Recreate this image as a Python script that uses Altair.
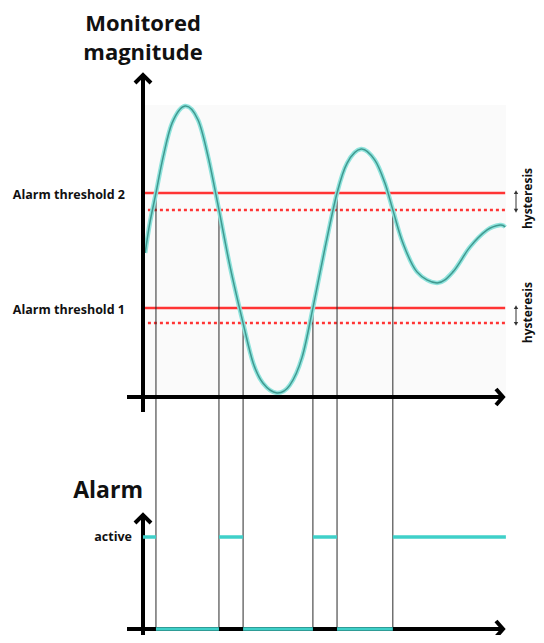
import altair as alt
import pandas as pd

# ---------------- data ----------------
# monitored magnitude over time (time units: 0 = vertical axis, 10 = arrow tip)
curve_t = [0.06, 0.19, 0.36, 0.56, 0.81, 1.17, 1.53, 1.81, 2.11, 2.42, 2.78,
           3.06, 3.33, 3.72, 4.08, 4.42, 4.72, 5.06, 5.39, 5.67, 6.06, 6.44,
           6.72, 6.94, 7.22, 7.61, 8.17, 8.61, 9.08, 9.56, 9.92, 10.06]
curve_m = [49.5, 59.8, 70.1, 82.5, 94.2, 100.0, 95.2, 82.5, 64.3, 44.7, 25.4,
           11.7, 4.8, 1.4, 4.1, 13.7, 30.6, 51.5, 70.1, 80.4, 85.2, 81.4,
           73.5, 64.3, 52.9, 43.0, 39.2, 43.0, 51.5, 57.4, 59.1, 58.4]

threshold_names = ["Alarm threshold 2", "Alarm threshold 1"]
threshold_levels = [70.1, 30.6]
release_levels = [64.3, 25.4]
threshold_start, threshold_end = -0.03, 10.06

crossing_t = [0.36, 2.11, 2.78, 4.72, 5.39, 6.94]
crossing_m = [70.1, 64.3, 25.4, 30.6, 70.1, 64.3]

state_start = [0.0, 0.36, 2.11, 2.78, 4.72, 5.39, 6.94]
state_end = [0.36, 2.11, 2.78, 4.72, 5.39, 6.94, 10.08]
state_value = [1, 0, 1, 0, 1, 0, 1]

# ---------------- layout ----------------
W, H = 528, 627
AX_PX, PX_T = 143, 36.0      # x pixel of t=0, pixels per time unit
AY_PX, PX_M = 397, 2.91      # y pixel of m=0, pixels per magnitude unit


def tx(px):
    return (px - AX_PX) / PX_T


def my(py):
    return (AY_PX - py) / PX_M


OFF_M = my(629)
ACT_M = my(537)

XS = alt.Scale(domain=[tx(8), tx(8 + W)], nice=False, zero=False)
YS = alt.Scale(domain=[my(8 + H), my(8)], nice=False, zero=False)


def X(f):
    return alt.X(f, type="quantitative", scale=XS, axis=None)


def Y(f):
    return alt.Y(f, type="quantitative", scale=YS, axis=None)


RED = "#ff3434"
TEAL = "#3fd0c9"
FONT = "Open Sans"

# background of plot area
bg = alt.Chart(pd.DataFrame({"a": [tx(145)], "b": [tx(506)], "c": [my(395)], "d": [my(105)]})).mark_rect(
    fill="#fafafa").encode(x=X("a"), x2="b", y=Y("c"), y2="d")

thr_df = pd.DataFrame({"name": threshold_names, "level": threshold_levels,
                       "release": release_levels,
                       "s": [threshold_start] * 2, "e": [threshold_end] * 2})
thr_solid = alt.Chart(thr_df).mark_rule(color=RED, strokeWidth=2.5).encode(
    x=X("s"), x2="e", y=Y("level"))
thr_dot = alt.Chart(thr_df).mark_rule(color=RED, strokeWidth=2.5, strokeDash=[3, 3]).encode(
    x=X("s"), x2="e", y=Y("release"))

cross_df = pd.DataFrame({"t": crossing_t, "m": crossing_m})
cross = alt.Chart(cross_df).transform_calculate(bot=str(OFF_M)).mark_rule(
    color="#2a2a2a", strokeWidth=1).encode(x=X("t"), y=Y("m"), y2="bot:Q")

curve_df = pd.DataFrame({"t": curve_t, "m": curve_m})
glow = alt.Chart(curve_df).mark_line(color="#8fe3dc", strokeWidth=4.5, interpolate="cardinal").encode(
    x=X("t"), y=Y("m"), order="t:Q")
core = alt.Chart(curve_df).mark_line(color="#3f9990", strokeWidth=1.5, interpolate="cardinal").encode(
    x=X("t"), y=Y("m"), order="t:Q")

# axes
axes_df = pd.DataFrame({
    "x1": [0, tx(127), 0, tx(127)],
    "x2": [0, tx(504), 0, tx(504)],
    "y1": [my(412), 0, my(650), OFF_M],
    "y2": [my(74), 0, my(514), OFF_M],
})
axes = alt.Chart(axes_df).mark_rule(color="black", strokeWidth=4).encode(
    x=X("x1"), x2="x2", y=Y("y1"), y2="y2")

arrows_df = pd.DataFrame({
    "id": [0] * 3 + [1] * 3 + [2] * 3 + [3] * 3,
    "o": [0, 1, 2] * 4,
    "x": [tx(135), 0, tx(151), tx(135), 0, tx(151),
          tx(496), tx(503), tx(496), tx(496), tx(503), tx(496)],
    "y": [my(83), my(75), my(83), my(523), my(515), my(523),
          my(389), 0, my(405), my(621), OFF_M, my(637)],
})
arrows = alt.Chart(arrows_df).mark_line(color="black", strokeWidth=4, strokeJoin="miter",
                                        strokeCap="butt").encode(
    x=X("x"), y=Y("y"), detail="id:N", order="o:Q")

state_df = pd.DataFrame({"s": state_start, "e": state_end, "v": state_value})
state = alt.Chart(state_df).transform_calculate(
    yy=f"{OFF_M} + datum.v * ({ACT_M - OFF_M})").mark_rule(color=TEAL, strokeWidth=3.5).encode(
    x=X("s"), x2="e", y=Y("yy"))

# hysteresis markers
hx = tx(516)
hyst_rule = alt.Chart(thr_df).transform_calculate(hx=str(hx)).mark_rule(
    color="#333", strokeWidth=1).encode(x=X("hx"), y=Y("level"), y2="release")
up = alt.Chart(thr_df).transform_calculate(hx=str(hx)).mark_point(
    shape="M0,-1L-0.8,0.4L0.8,0.4Z", filled=True, color="#333", size=30, opacity=1).encode(
    x=X("hx"), y=Y("level"))
down = alt.Chart(thr_df).transform_calculate(hx=str(hx)).mark_point(
    shape="M0,1L-0.8,-0.4L0.8,-0.4Z", filled=True, color="#333", size=30, opacity=1).encode(
    x=X("hx"), y=Y("release"))
hyst_text = alt.Chart(thr_df).transform_calculate(
    hx=str(tx(528)), mid="(datum.level + datum.release) / 2 + 1", lab="'hysteresis'").mark_text(
    angle=270, align="center", baseline="middle", font=FONT, fontWeight="bold",
    fontSize=12, color="#111").encode(x=X("hx"), y=Y("mid"), text="lab:N")

thr_text = alt.Chart(thr_df).transform_calculate(z="0").mark_text(
    align="right", baseline="middle", dx=-18, dy=2, font=FONT, fontWeight="bold",
    fontSize=12.5, color="#111").encode(x=X("z"), y=Y("level"), text="name:N")

titles_df = pd.DataFrame({"x": [0, 0], "y": [my(31), my(60)], "label": ["Monitored", "magnitude"]})
titles = alt.Chart(titles_df).mark_text(
    align="center", baseline="alphabetic", font=FONT, fontWeight="bold", fontSize=22,
    color="#111").encode(x=X("x"), y=Y("y"), text="label:N")

alarm_df = pd.DataFrame({"x": [0], "y": [my(498)], "label": ["Alarm"]})
alarm_title = alt.Chart(alarm_df).mark_text(
    align="right", baseline="alphabetic", font=FONT, fontWeight="bold", fontSize=23,
    color="#111").encode(x=X("x"), y=Y("y"), text="label:N")

active_df = pd.DataFrame({"x": [0], "y": [ACT_M], "label": ["active"]})
active_text = alt.Chart(active_df).mark_text(
    align="right", baseline="middle", dx=-11, font=FONT, fontWeight="bold", fontSize=12.5,
    color="#111").encode(x=X("x"), y=Y("y"), text="label:N")

chart = alt.layer(
    bg, thr_solid, thr_dot, cross, glow, core, axes, arrows, state,
    hyst_rule, up, down, hyst_text, thr_text, titles, alarm_title, active_text
).properties(
    width=W, height=H, padding=0,
    autosize=alt.AutoSizeParams(type="none"),
    background="white",
).configure_view(stroke=None)

chart.save("out.html", embed_options={"renderer": "svg", "actions": False})
